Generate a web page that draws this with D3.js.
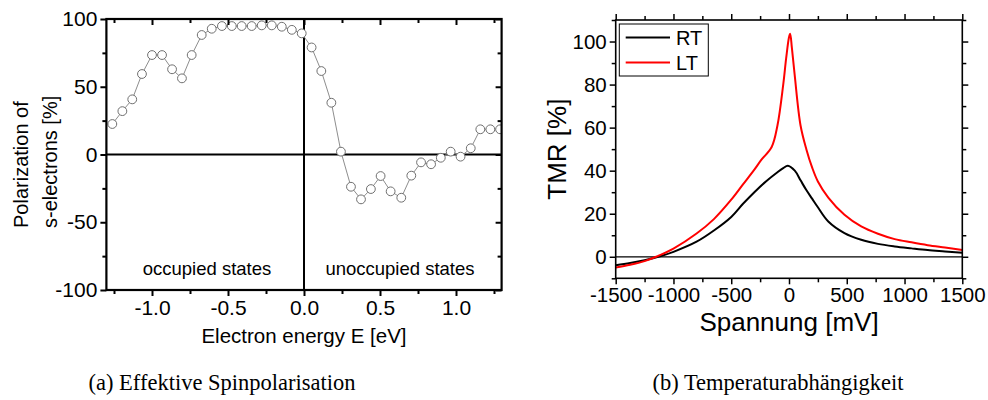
<!DOCTYPE html>
<html><head><meta charset="utf-8">
<script src="https://cdn.jsdelivr.net/npm/d3@7/dist/d3.min.js"></script>
<style>
html,body{margin:0;padding:0;background:#fff;}
svg text{font-family:"Liberation Sans",Arial,sans-serif;fill:#000;}
</style></head>
<body>
<svg id="c" width="988" height="400"></svg>
<script>
// ---- Data: panel (a) ----
const energy = [-1.261,-1.195,-1.130,-1.066,-1.000,-0.934,-0.868,-0.803,-0.739,-0.673,-0.607,-0.540,-0.475,-0.410,-0.344,-0.278,-0.212,-0.146,-0.080,-0.015,
                0.050,0.114,0.180,0.243,0.309,0.375,0.440,0.504,0.570,0.640,0.706,0.770,0.836,0.900,0.965,1.030,1.097,1.160,1.226,1.290];
const polarization = [22.5,32,40.7,59.4,73.4,73.4,62.9,56.2,73.4,88.2,92.8,94.8,94.8,94.8,94.8,95.3,95.3,94.3,92,89.4,
                79,61.6,38.2,2.1,-23.8,-33.1,-25.5,-15.9,-27.2,-31.9,-15.6,-5.8,-7.2,-2.4,2.1,-1.6,4.6,18.6,18.6,18.6];
const polXTicks = [-1.0,-0.5,0.0,0.5,1.0];
const polXTickLabels = ["-1.0","-0.5","0.0","0.5","1.0"];
const polYTicks = [-100,-50,0,50,100];
const polYTickLabels = ["-100","-50","0","50","100"];

// ---- Data: panel (b) ----
const voltRT = [-1500,-1375,-1250,-1100,-1000,-800,-650,-500,-400,-300,-200,-100,-50,-10,50,100,150,200,250,340,480,625,770,915,1060,1200,1350,1500];
const tmrRT  = [-3.9,-2.9,-1.6,0.5,2.3,7,12.2,18.5,24.5,30,35,39.3,41.2,42.3,40,35.5,31,27,23,16.4,11,7.9,6,4.8,3.9,3.1,2.5,1.9];
const voltLT = [-1500,-1375,-1250,-1150,-1000,-800,-650,-500,-400,-300,-240,-150,-100,-50,-25,0,10,25,50,100,150,200,250,340,480,625,770,915,1060,1200,1350,1500];
const tmrLT  = [-5,-3.7,-2,0,3.8,10.8,17.5,26.5,33.5,40.5,45,51,61,80,92,102,103.6,97,84,61,50,41.5,35,27.5,19.5,14.1,10.7,8.2,6.7,5.4,4.3,3.2];
const seriesNames = ["RT","LT"];
const seriesColors = ["#000000","#ff0000"];
const tmrXTicks = [-1500,-1000,-500,0,500,1000,1500];
const tmrYTicks = [0,20,40,60,80,100];

const svg = d3.select("#c");

// ================= Panel (a) =================
const xa = d3.scaleLinear().domain([-1.3,1.3]).range([106.4,501.6]);
const ya = d3.scaleLinear().domain([-100,100]).range([290,19]);
const ga = svg.append("g");

ga.append("clipPath").attr("id","clipA").append("rect")
  .attr("x",xa.range()[0]).attr("y",ya.range()[1])
  .attr("width",xa.range()[1]-xa.range()[0]).attr("height",ya.range()[0]-ya.range()[1]);

ga.append("line").attr("x1",xa(-1.3)).attr("x2",xa(1.3)).attr("y1",ya(0)).attr("y2",ya(0))
  .attr("stroke","#000").attr("stroke-width",2);
ga.append("line").attr("x1",xa(0)).attr("x2",xa(0)).attr("y1",ya(-100)).attr("y2",ya(100))
  .attr("stroke","#000").attr("stroke-width",2);

const pts = energy.map((e,i)=>[e,polarization[i]]);
const gd = ga.append("g").attr("clip-path","url(#clipA)");
gd.append("path").datum(pts)
  .attr("d",d3.line().x(d=>xa(d[0])).y(d=>ya(d[1])))
  .attr("fill","none").attr("stroke","#808080").attr("stroke-width",0.9);
gd.selectAll("circle").data(pts).join("circle")
  .attr("cx",d=>xa(d[0])).attr("cy",d=>ya(d[1])).attr("r",4.4)
  .attr("fill","#fff").attr("stroke","#707070").attr("stroke-width",1);

function styleAxis(g,w){
  g.select(".domain").remove();
  g.selectAll(".tick line").attr("stroke","#000").attr("stroke-width",w);
}
const minorXa = d3.range(-1.25,1.3,0.5);
const minorYa = [-75,-25,25,75];

const axBa = ga.append("g").attr("transform",`translate(0,${ya(-100)})`)
  .call(d3.axisBottom(xa).tickValues(polXTicks).tickSize(6).tickPadding(4)
        .tickFormat((d,i)=>polXTickLabels[i]));
styleAxis(axBa,2);
axBa.selectAll("text").attr("font-size",21);
ga.append("g").attr("transform",`translate(0,${ya(-100)})`)
  .call(d3.axisBottom(xa).tickValues(minorXa).tickSize(4).tickFormat(""))
  .call(g=>styleAxis(g,2));
ga.append("g").attr("transform",`translate(0,${ya(100)})`)
  .call(d3.axisTop(xa).tickValues(polXTicks).tickSize(-6).tickFormat(""))
  .call(g=>styleAxis(g,2));
ga.append("g").attr("transform",`translate(0,${ya(100)})`)
  .call(d3.axisTop(xa).tickValues(minorXa).tickSize(-4).tickFormat(""))
  .call(g=>styleAxis(g,2));
const axLa = ga.append("g").attr("transform",`translate(${xa(-1.3)},0)`)
  .call(d3.axisLeft(ya).tickValues(polYTicks).tickSize(6).tickPadding(3)
        .tickFormat((d,i)=>polYTickLabels[i]));
styleAxis(axLa,2);
axLa.selectAll("text").attr("font-size",21);
ga.append("g").attr("transform",`translate(${xa(-1.3)},0)`)
  .call(d3.axisLeft(ya).tickValues(minorYa).tickSize(4).tickFormat(""))
  .call(g=>styleAxis(g,2));
ga.append("g").attr("transform",`translate(${xa(1.3)},0)`)
  .call(d3.axisRight(ya).tickValues(polYTicks).tickSize(-6).tickFormat(""))
  .call(g=>styleAxis(g,2));
ga.append("g").attr("transform",`translate(${xa(1.3)},0)`)
  .call(d3.axisRight(ya).tickValues(minorYa).tickSize(-4).tickFormat(""))
  .call(g=>styleAxis(g,2));
ga.append("rect").attr("x",xa(-1.3)).attr("y",ya(100))
  .attr("width",xa(1.3)-xa(-1.3)).attr("height",ya(-100)-ya(100))
  .attr("fill","none").attr("stroke","#000").attr("stroke-width",2.2);

ga.append("text").attr("x",207).attr("y",275).attr("text-anchor","middle").attr("font-size",18.5).text("occupied states");
ga.append("text").attr("x",400).attr("y",275).attr("text-anchor","middle").attr("font-size",18.5).text("unoccupied states");
ga.append("text").attr("x",xa(0)).attr("y",343).attr("text-anchor","middle").attr("font-size",20.5).text("Electron energy E [eV]");
const yl = ga.append("text").attr("transform","translate(0,228) rotate(-90)").attr("font-size",20);
yl.append("tspan").attr("x",0).attr("y",28).text("Polarization of");
yl.append("tspan").attr("x",0).attr("y",57).text("s-electrons [%]");

// ================= Panel (b) =================
const xb = d3.scaleLinear().domain([-1500,1500]).range([615.7,962.3]);
const yb = d3.scaleLinear().domain([-10,110]).range([278.3,20]);
const gb = svg.append("g");

gb.append("line").attr("x1",xb(-1500)).attr("x2",xb(1500)).attr("y1",yb(0)).attr("y2",yb(0))
  .attr("stroke","#000").attr("stroke-width",1.2);

const lineB = d3.line().x(d=>xb(d[0])).y(d=>yb(d[1])).curve(d3.curveCatmullRom.alpha(0.5));
const seriesData = [voltRT.map((v,i)=>[v,tmrRT[i]]), voltLT.map((v,i)=>[v,tmrLT[i]])];
seriesData.forEach((s,i)=>{
  gb.append("path").datum(s).attr("d",lineB).attr("fill","none")
    .attr("stroke",seriesColors[i]).attr("stroke-width",2);
});

const minorXb = d3.range(-1250,1500,500);
const minorYb = [-10,10,30,50,70,90,110];
function axesB(gen, pos, major, lab){
  const a = gb.append("g").attr("transform",pos)
    .call(gen.tickValues(major).tickSize(6).tickPadding(3).tickFormat(lab?d3.format("d"):""));
  styleAxis(a,1.5);
  a.selectAll("text").attr("font-size",20.5);
  return a;
}
axesB(d3.axisBottom(xb),`translate(0,${yb(-10)})`,tmrXTicks,true);
gb.append("g").attr("transform",`translate(0,${yb(-10)})`)
  .call(d3.axisBottom(xb).tickValues(minorXb).tickSize(4).tickFormat("")).call(g=>styleAxis(g,1.5));
axesB(d3.axisTop(xb),`translate(0,${yb(110)})`,tmrXTicks,false);
gb.append("g").attr("transform",`translate(0,${yb(110)})`)
  .call(d3.axisTop(xb).tickValues(minorXb).tickSize(4).tickFormat("")).call(g=>styleAxis(g,1.5));
axesB(d3.axisLeft(yb),`translate(${xb(-1500)},0)`,tmrYTicks,true);
gb.append("g").attr("transform",`translate(${xb(-1500)},0)`)
  .call(d3.axisLeft(yb).tickValues(minorYb).tickSize(4).tickFormat("")).call(g=>styleAxis(g,1.5));
axesB(d3.axisRight(yb),`translate(${xb(1500)},0)`,tmrYTicks,false);
gb.append("g").attr("transform",`translate(${xb(1500)},0)`)
  .call(d3.axisRight(yb).tickValues(minorYb).tickSize(4).tickFormat("")).call(g=>styleAxis(g,1.5));
gb.append("rect").attr("x",xb(-1500)).attr("y",yb(110))
  .attr("width",xb(1500)-xb(-1500)).attr("height",yb(-10)-yb(110))
  .attr("fill","none").attr("stroke","#000").attr("stroke-width",1.6);
gb.selectAll(".tick text").text(function(){return this.textContent.replace("\u2212","-");});

const lg = gb.append("g");
lg.append("rect").attr("x",619.3).attr("y",24).attr("width",89).attr("height",52)
  .attr("fill","#fff").attr("stroke","#000").attr("stroke-width",1);
seriesNames.forEach((n,i)=>{
  const y = 37.5 + i*25;
  lg.append("line").attr("x1",625.7).attr("x2",670).attr("y1",y).attr("y2",y)
    .attr("stroke",seriesColors[i]).attr("stroke-width",2);
  lg.append("text").attr("x",676).attr("y",y+7).attr("font-size",20).text(n);
});

gb.append("text").attr("x",xb(0)).attr("y",331).attr("text-anchor","middle").attr("font-size",26).text("Spannung [mV]");
gb.append("text").attr("transform",`translate(566,${(yb(-10)+yb(110))/2}) rotate(-90)`)
  .attr("text-anchor","middle").attr("font-size",26).text("TMR [%]");

svg.append("text").attr("x",222).attr("y",390).attr("text-anchor","middle")
  .style("font-family","'Liberation Serif','DejaVu Serif',serif").attr("font-size",22.5).text("(a) Effektive Spinpolarisation");
svg.append("text").attr("x",778).attr("y",390).attr("text-anchor","middle")
  .style("font-family","'Liberation Serif','DejaVu Serif',serif").attr("font-size",22.5).text("(b) Temperaturabhängigkeit");
</script>
</body></html>
